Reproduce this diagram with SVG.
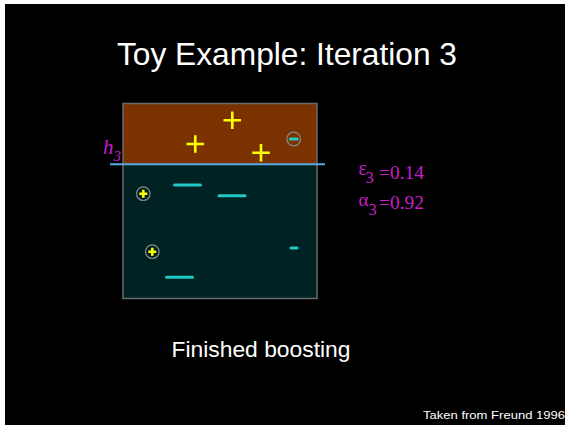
<svg xmlns="http://www.w3.org/2000/svg" width="565" height="425" viewBox="0 0 565 425">
  <defs>
    <style>
      .sans { font-family: "Liberation Sans", Arial, sans-serif; fill: #ffffff; }
      .serif { font-family: "Liberation Serif", "Times New Roman", serif; fill: #c81ec8; }
      .pos { stroke: #ffff00; stroke-width: 2.6; fill: none; }
      .neg { stroke: #20c8c8; stroke-width: 3; stroke-linecap: round; fill: none; }
      .ring { stroke: #8a8a8a; stroke-width: 1.2; fill: none; }
    </style>
  </defs>

  <!-- page -->
  <rect x="0" y="0" width="565" height="425" fill="#ffffff"/>
  <rect x="5" y="4" width="560" height="421" fill="#000000"/>

  <text class="sans" x="117" y="64.5" font-size="30.5" textLength="340" lengthAdjust="spacingAndGlyphs">Toy Example: Iteration 3</text>

  <!-- feature space split by h3 -->
  <g id="region-upper">
    <rect x="123" y="103.5" width="194" height="61" fill="#7a3300"/>
  </g>
  <g id="region-lower">
    <rect x="123" y="164.5" width="194" height="134" fill="#002222"/>
  </g>
  <rect x="123" y="103.5" width="194" height="195" fill="none" stroke="#6a6a6a" stroke-width="1.5"/>

  <!-- positive examples -->
  <g id="pos-1"><path class="pos" d="M223.5 120.3h17.5M232.3 111.5v17.5"/></g>
  <g id="pos-2"><path class="pos" d="M186.5 144h17.5M195.3 135.2v17.5"/></g>
  <g id="pos-3"><path class="pos" d="M252.3 152.7h17.5M261 144v17.5"/></g>
  <g id="pos-4">
    <circle class="ring" cx="143.3" cy="193.7" r="6.8"/>
    <path class="pos" d="M139.3 193.7h8M143.3 189.7v8"/>
  </g>
  <g id="pos-5">
    <circle class="ring" cx="152.3" cy="251.7" r="6.8"/>
    <path class="pos" d="M148.3 251.7h8M152.3 247.7v8"/>
  </g>

  <!-- negative examples -->
  <g id="neg-1">
    <circle class="ring" cx="293.7" cy="139" r="6.8"/>
    <path class="neg" d="M290.3 139h6.8"/>
  </g>
  <g id="neg-2"><path class="neg" d="M174.5 185h26"/></g>
  <g id="neg-3"><path class="neg" d="M219 195.7h26"/></g>
  <g id="neg-4"><path class="neg" d="M166.5 277.3h26"/></g>
  <g id="neg-5"><path class="neg" d="M291 248h6"/></g>

  <!-- weak classifier h3 -->
  <g id="connectors">
    <line x1="110" y1="164.3" x2="325" y2="164.3" stroke="#5aa8e0" stroke-width="2"/>
  </g>
  <g id="label-h3">
    <text class="serif" x="103" y="153.5" font-size="21" font-style="italic">h</text>
    <text class="serif" x="113.5" y="161" font-size="15" font-style="italic">3</text>
  </g>

  <!-- error and weight -->
  <g id="label-eps">
    <text class="serif" x="358.5" y="175" font-size="20">ε</text>
    <text class="serif" x="365.5" y="183.3" font-size="16.5">3</text>
    <text class="serif" x="379" y="179" font-size="19.5" textLength="45" lengthAdjust="spacingAndGlyphs">=0.14</text>
  </g>
  <g id="label-alpha">
    <text class="serif" x="358.5" y="205.5" font-size="19">α</text>
    <text class="serif" x="368.5" y="215" font-size="16.5">3</text>
    <text class="serif" x="379" y="209.3" font-size="19.5" textLength="45" lengthAdjust="spacingAndGlyphs">=0.92</text>
  </g>

  <text class="sans" x="171.5" y="356.5" font-size="22.5" textLength="179" lengthAdjust="spacingAndGlyphs">Finished boosting</text>
  <text class="sans" x="423" y="419.3" font-size="11.5" textLength="142" lengthAdjust="spacingAndGlyphs">Taken from Freund 1996</text>
</svg>
